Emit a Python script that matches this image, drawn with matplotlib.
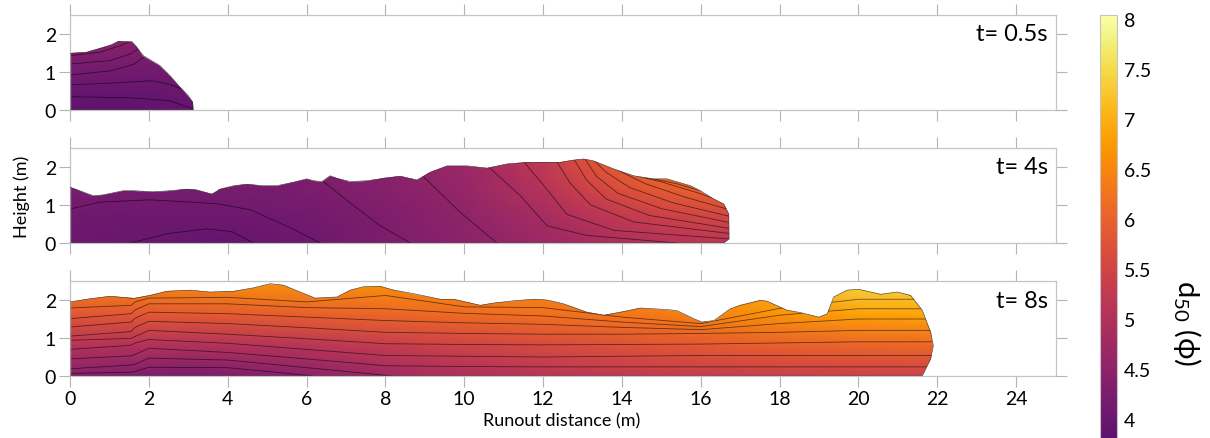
import numpy as np
import matplotlib.pyplot as plt
import matplotlib.cm as cm
from matplotlib.patches import Polygon
from matplotlib.colors import ListedColormap, Normalize

plt.rcParams['font.family'] = ['Lato', 'DejaVu Sans']
plt.rcParams['mathtext.fontset'] = 'custom'
plt.rcParams['mathtext.rm'] = 'Lato'
plt.rcParams['mathtext.it'] = 'Lato:italic'
plt.rcParams['mathtext.fallback'] = 'stixsans'

# ---- deposit surface profiles (runout distance, height) ----
p1_x = [0, 0.42, 0.76, 1.05, 1.23, 1.57, 1.69, 1.86, 2.28, 2.54, 2.79, 3.0, 3.11, 3.13]
p1_h = [1.49, 1.52, 1.62, 1.72, 1.81, 1.80, 1.65, 1.43, 1.17, 0.90, 0.60, 0.38, 0.20, 0.03]

p2_x = [0, 0.59, 0.84, 1.35, 1.61, 2.11, 2.54, 2.96, 3.21, 3.60, 3.81, 4.15, 4.48, 4.9, 5.24,
        5.67, 6.0, 6.18, 6.39, 6.60, 6.77, 7.11, 7.53, 7.95, 8.38, 8.80, 9.14, 9.56, 10.07,
        10.58, 11.08, 11.59, 12.44, 12.77, 13.03, 13.28, 13.79, 14.30, 14.80, 15.14, 15.74,
        15.99, 16.33, 16.58, 16.71, 16.72, 16.58]
p2_h = [1.46, 1.24, 1.26, 1.37, 1.37, 1.34, 1.37, 1.41, 1.39, 1.28, 1.41, 1.50, 1.54, 1.50, 1.50,
        1.59, 1.68, 1.63, 1.61, 1.76, 1.69, 1.61, 1.63, 1.69, 1.75, 1.65, 1.85, 2.02, 2.02,
        1.96, 2.07, 2.11, 2.11, 2.17, 2.20, 2.15, 1.94, 1.76, 1.68, 1.68, 1.50,
        1.37, 1.15, 1.02, 0.76, 0.10, 0.0]

p3_x = [0, 0.42, 1.02, 1.61, 2.03, 2.45, 3.05, 3.55, 4.15, 4.65, 5.08, 5.41, 5.84, 6.22, 6.77,
        7.11, 7.44, 7.87, 8.21, 8.71, 9.39, 9.73, 10.41, 10.74, 11.25, 11.76, 12.10, 12.52,
        13.11, 13.54, 13.96, 14.47, 15.14, 15.40, 15.82, 16.03, 16.33, 16.75, 17.0, 17.51,
        17.68, 18.19, 18.53, 18.99, 19.21, 19.37, 19.71, 20.01, 20.56, 20.98, 21.32, 21.62,
        21.83, 21.9, 21.83, 21.62]
p3_h = [1.95, 2.02, 2.10, 2.04, 2.12, 2.23, 2.26, 2.21, 2.23, 2.32, 2.43, 2.39, 2.21, 2.05, 2.08,
        2.26, 2.35, 2.36, 2.26, 2.17, 2.02, 2.02, 1.86, 1.92, 1.98, 2.02, 2.0, 1.90,
        1.68, 1.60, 1.68, 1.79, 1.75, 1.72, 1.51, 1.42, 1.46, 1.77, 1.86, 1.99,
        1.97, 1.73, 1.67, 1.55, 1.64, 2.08, 2.26, 2.28, 2.15, 2.21, 2.12, 1.73,
        1.15, 0.80, 0.45, 0.0]

# ---- d50 (phi) read on a coarse grid inside each deposit ----
g1_x = [0, 1, 2, 3.2]
g1_h = [0, 0.6, 1.2, 1.9]
g1_d50 = [[3.85, 3.83, 3.85, 3.92],
          [3.98, 3.97, 3.98, 4.02],
          [4.18, 4.17, 4.15, 4.12],
          [4.45, 4.48, 4.35, 4.25]]

g2_x = [0, 2, 4, 6, 8, 10, 12, 13, 14, 15, 16, 17]
g2_h = [0, 0.7, 1.4, 2.3]
g2_d50 = [[4.02, 3.97, 3.94, 4.05, 4.25, 4.45, 4.70, 4.82, 4.95, 5.05, 5.12, 5.15],
          [4.08, 4.06, 4.05, 4.12, 4.30, 4.52, 4.85, 5.05, 5.25, 5.40, 5.50, 5.55],
          [4.20, 4.18, 4.17, 4.22, 4.38, 4.62, 5.05, 5.40, 5.70, 5.90, 6.00, 6.05],
          [4.30, 4.28, 4.28, 4.32, 4.45, 4.72, 5.25, 5.75, 6.05, 6.20, 6.30, 6.35]]

g3_x = [0, 3, 6, 9, 12, 15, 17.5, 20, 22]
g3_h = [0, 0.8, 1.6, 2.5]
g3_d50 = [[4.40, 4.20, 4.45, 4.85, 5.10, 5.28, 5.35, 5.40, 5.42],
          [5.05, 5.00, 5.10, 5.40, 5.60, 5.80, 5.95, 6.05, 6.10],
          [5.80, 5.85, 5.95, 6.10, 6.20, 6.35, 6.60, 6.80, 6.85],
          [6.45, 6.60, 6.70, 6.65, 6.60, 6.65, 7.00, 7.45, 7.50]]

# ---- internal layer lines ----
layers1 = [
    ([0, 1.5, 2.5, 3.15], [0.35, 0.32, 0.25, 0.02]),
    ([0, 0.9, 2.07, 2.5, 2.96, 3.2], [0.66, 0.70, 0.77, 0.68, 0.51, 0.35]),
    ([0, 1.02, 1.61, 1.86, 2.0], [0.92, 1.03, 1.20, 1.38, 1.5]),
    ([0, 1.02, 1.52, 1.73, 1.8], [1.21, 1.30, 1.47, 1.61, 1.8]),
    ([0, 0.76, 1.27, 1.52, 1.6], [1.43, 1.52, 1.69, 1.80, 1.95]),
]

layers2 = [
    ([0, 0.76, 2.03, 3.72, 4.57, 5.59, 6.35], [0.89, 1.07, 1.13, 1.03, 0.87, 0.40, 0.0]),
    ([1.52, 2.5, 3.47, 4.1, 4.65], [0, 0.25, 0.37, 0.30, 0]),
    ([6.2, 7.1, 7.87, 8.63], [1.8, 1.05, 0.45, 0]),
    ([8.8, 9.9, 10.83], [1.9, 0.8, 0]),
    ([10.5, 11.42, 12.1, 13.1, 15.4], [2.1, 1.24, 0.45, 0.2, 0]),
    ([11.45, 12.1, 12.6, 13.8, 16.8], [2.2, 1.4, 0.75, 0.33, 0.10]),
    ([12.3, 12.7, 13.2, 14.3, 16.8], [2.2, 1.55, 1.0, 0.55, 0.24]),
    ([12.75, 13.1, 13.6, 14.7, 16.8], [2.25, 1.65, 1.15, 0.72, 0.37]),
    ([13.0, 13.35, 13.9, 15.0, 16.8], [2.3, 1.75, 1.3, 0.9, 0.52]),
    ([13.2, 13.6, 14.2, 15.3, 16.8], [2.25, 1.85, 1.45, 1.05, 0.68]),
    ([13.4, 13.9, 14.6, 15.6, 16.8], [2.2, 1.9, 1.55, 1.2, 0.85]),
    ([13.6, 14.2, 15.0, 15.9, 16.8], [2.1, 1.8, 1.6, 1.32, 1.0]),
    ([13.9, 14.6, 15.4, 16.2, 16.8], [1.95, 1.72, 1.55, 1.3, 1.15]),
]

layer3_x = [0, 1.55, 1.65, 2, 4, 6, 8, 10, 12, 14, 16, 18, 20, 22.5]
layers3_h = [
    [1.79, 1.86, 1.95, 2.05, 2.07, 1.95, 2.12, 1.82, 1.80, 1.55, 1.38, 1.78, 2.02, 2.02],
    [1.51, 1.64, 1.74, 1.90, 1.90, 1.80, 1.77, 1.65, 1.58, 1.42, 1.30, 1.60, 1.77, 1.77],
    [1.29, 1.42, 1.52, 1.68, 1.64, 1.55, 1.46, 1.40, 1.36, 1.28, 1.22, 1.38, 1.50, 1.50],
    [1.05, 1.17, 1.28, 1.44, 1.38, 1.27, 1.15, 1.12, 1.10, 1.10, 1.12, 1.15, 1.20, 1.20],
    [0.94, 0.99, 1.04, 1.20, 1.10, 0.98, 0.85, 0.83, 0.82, 0.83, 0.84, 0.87, 0.90, 0.90],
    [0.70, 0.81, 0.87, 0.96, 0.86, 0.70, 0.54, 0.52, 0.50, 0.52, 0.54, 0.54, 0.54, 0.54],
    [0.45, 0.53, 0.57, 0.73, 0.62, 0.45, 0.27, 0.25, 0.24, 0.24, 0.24, 0.24, 0.24, 0.24],
    [0.19, 0.29, 0.31, 0.47, 0.42, 0.22, 0.02, -0.3, -0.3, -0.3, -0.3, -0.3, -0.3, -0.3],
    [0.07, 0.10, 0.12, 0.23, 0.22, 0.02, -0.3, -0.3, -0.3, -0.3, -0.3, -0.3, -0.3, -0.3],
]
layers3 = [(layer3_x, h) for h in layers3_h]

times = ['t= 0.5s', 't= 4s', 't= 8s']
x_ticks = list(range(0, 25, 2))
y_ticks = [0, 1, 2]
cbar_ticks = [4, 4.5, 5, 5.5, 6, 6.5, 7, 7.5, 8]

cmap = ListedColormap(plt.get_cmap('inferno')(np.linspace(0.265, 1.0, 256)))
norm = Normalize(3.8, 8.04)

fig = plt.figure(figsize=(12.1, 4.39), dpi=100)
boxes = [[0.0579, 0.7472, 0.8145, 0.2164],
         [0.0579, 0.4442, 0.8145, 0.2175],
         [0.0579, 0.1412, 0.8145, 0.2164]]
panels = [(p1_x, p1_h, g1_x, g1_h, g1_d50, layers1),
          (p2_x, p2_h, g2_x, g2_h, g2_d50, layers2),
          (p3_x, p3_h, g3_x, g3_h, g3_d50, layers3)]

for i, (box, (px, ph, gx, gh, gd, layers)) in enumerate(zip(boxes, panels)):
    ax = fig.add_axes(box)
    outline = np.column_stack([[0] + px + [px[-1]], [0] + ph + [0]])
    poly = Polygon(outline, closed=True, facecolor='none', edgecolor='#3a3a3a',
                   lw=0.4, zorder=3)
    ax.add_patch(poly)
    X, Y = np.meshgrid(gx, gh)
    mesh = ax.pcolormesh(X, Y, np.array(gd), cmap=cmap, norm=norm, shading='gouraud')
    mesh.set_clip_path(poly)
    for lx, lh in layers:
        ln, = ax.plot(lx, lh, color='k', lw=0.6, alpha=0.55)
        ln.set_clip_path(poly)

    ax.set_xlim(0, 25)
    ax.set_ylim(0, 2.5)
    ax.set_xticks(x_ticks)
    ax.set_yticks(y_ticks)
    ax.tick_params(direction='out', length=8, width=0.8, color='#b4b4b4',
                   top=True, right=True, labelsize=14, pad=2)
    if i < 2:
        ax.tick_params(labelbottom=False)
    for s in ax.spines.values():
        s.set_color('#c4c4c4')
        s.set_linewidth(0.9)
    ax.text(0.992, 0.80, times[i], transform=ax.transAxes, ha='right', va='center',
            fontsize=17)

fig.text(22 / 1210, 1 - 197 / 439, 'Height (m)', rotation=90, ha='center', va='center',
         fontsize=13)
fig.text(562 / 1210, 1 - 421 / 439, 'Runout distance (m)', ha='center', va='center',
         fontsize=13)

cax = fig.add_axes([0.9091, -0.0023, 0.01405, 0.9658])
cb = fig.colorbar(cm.ScalarMappable(norm=norm, cmap=cmap), cax=cax)
cb.set_ticks(cbar_ticks)
cb.set_ticklabels(['%g' % t for t in cbar_ticks])
cax.tick_params(length=0, labelsize=14, pad=5)
cb.outline.set_edgecolor('#c4c4c4')
fig.text(0.981, 0.264, 'd$_{50}$ (\u03d5)', rotation=270, ha='center', va='center',
         fontsize=21)

fig.savefig('out.png', dpi=100)
